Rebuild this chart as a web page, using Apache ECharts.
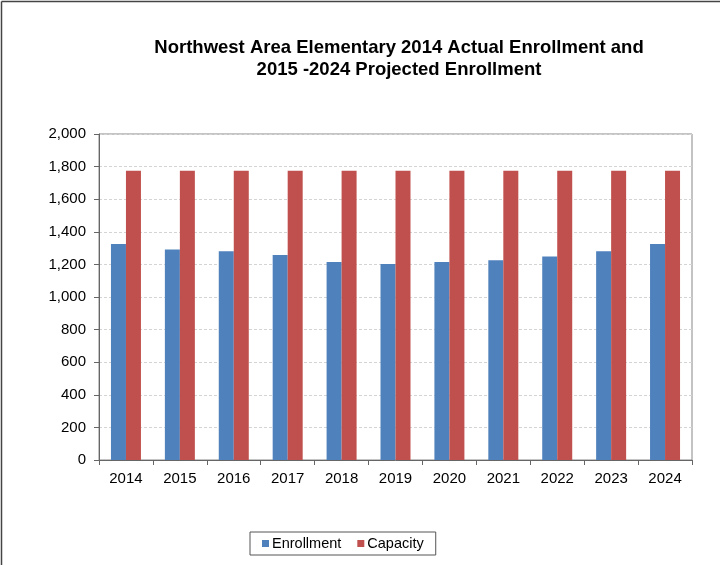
<!DOCTYPE html>
<html>
<head>
<meta charset="utf-8">
<script src="https://cdn.jsdelivr.net/npm/echarts@6/dist/echarts.min.js"></script>
<style>
  html, body { margin: 0; padding: 0; background: #fff; }
  #chart { width: 720px; height: 565px; }
</style>
</head>
<body>
<div id="chart"></div>
<script>
const years = ['2014', '2015', '2016', '2017', '2018', '2019', '2020', '2021', '2022', '2023', '2024']
const enrollment = [1325, 1292, 1280, 1257, 1214, 1202, 1214, 1226, 1248, 1280, 1325]
const capacity = [1775, 1775, 1775, 1775, 1775, 1775, 1775, 1775, 1775, 1775, 1775]

const chart = echarts.init(document.getElementById('chart'))

const font = 'Liberation Sans, Arial, sans-serif'

const option = {
  backgroundColor: '#fff',
  animation: false,
  title: {
    text: 'Northwest Area Elementary 2014 Actual Enrollment and\n2015 -2024 Projected Enrollment',
    left: 394,
    textAlign: 'center',
    top: 32,
    textStyle: {
      fontFamily: font,
      fontSize: 18.5,
      fontWeight: 'bold',
      color: '#000',
      lineHeight: 22
    }
  },
  legend: {
    data: ['Enrollment', 'Capacity'],
    bottom: 10,
    left: 250,
    itemWidth: 7,
    itemHeight: 7,
    itemGap: 16,
    icon: 'rect',
    borderColor: '#555',
    borderWidth: 1,
    borderRadius: 0,
    padding: [4, 12, 4, 12],
    textStyle: { fontFamily: font, fontSize: 14.5, color: '#000', padding: [0, 0, 0, -2] }
  },
  grid: {
    left: 99,
    right: 28,
    top: 134,
    bottom: 105,
    show: true,
    borderColor: '#888',
    borderWidth: 1
  },
  xAxis: {
    type: 'category',
    data: years,
    axisLine: { lineStyle: { color: '#666' } },
    axisTick: { show: true, length: 5, lineStyle: { color: '#666' } },
    axisLabel: { fontFamily: font, fontSize: 15, color: '#000', margin: 11 }
  },
  yAxis: {
    type: 'value',
    min: 0,
    max: 2000,
    interval: 200,
    axisLine: { show: true, lineStyle: { color: '#666' } },
    axisTick: { show: true, length: 5, lineStyle: { color: '#666' } },
    axisLabel: {
      fontFamily: font,
      fontSize: 15,
      color: '#000',
      margin: 13,
      formatter: v => v.toLocaleString('en-US')
    },
    splitLine: { lineStyle: { color: '#d4d4d4', type: [3, 2] } }
  },
  series: [
    {
      name: 'Enrollment',
      type: 'bar',
      data: enrollment,
      barWidth: 15,
      barGap: '0%',
      itemStyle: { color: '#4f81bd' }
    },
    {
      name: 'Capacity',
      type: 'bar',
      data: capacity,
      barWidth: 15,
      itemStyle: { color: '#c0504d' }
    }
  ],
  graphic: [
    { type: 'line', shape: { x1: 1.5, y1: 1.5, x2: 720, y2: 1.5 }, style: { stroke: '#444', lineWidth: 1.5 } },
    { type: 'line', shape: { x1: 1.5, y1: 1.5, x2: 1.5, y2: 565 }, style: { stroke: '#444', lineWidth: 1.5 } }
  ]
}

chart.setOption(option)
</script>
</body>
</html>
